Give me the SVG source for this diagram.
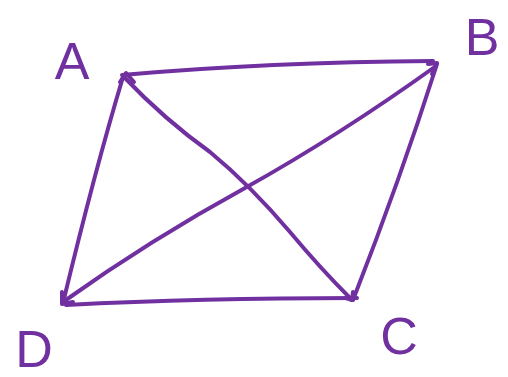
<svg xmlns="http://www.w3.org/2000/svg" width="508" height="377" viewBox="0 0 508 377">
<style>
.e{fill:none;stroke:#7030A0;stroke-width:4;stroke-linecap:round;stroke-linejoin:round}
.l{fill:#7030A0;font-family:"Liberation Sans",Arial,sans-serif;font-size:52px;text-anchor:middle}
</style>
<rect width="508" height="377" fill="#fff"/>
<g id="connectors">
<path class="e" d="M122,75 Q270,62 433,61"/>
<path class="e" d="M123,77 Q95,170 63,303"/>
<path class="e" d="M437,64 Q400,180 353,300"/>
<path class="e" d="M66,305 Q200,298 357,298"/>
<path class="e" d="M123,76 Q165,120 210,152 Q250,185 290,232 Q320,268 352,300"/>
<path class="e" d="M63,302 Q150,240 245,188 Q340,135 436,66"/>
<path class="e" d="M120,82 L126,73 L134,82"/>
<path class="e" d="M428,64 L437,63 L432,74"/>
<path class="e" d="M62,292 L62,304 L73,302"/>
<path class="e" d="M346,298 L352,300 L353,292"/>
</g>
<g id="A"><text class="l" x="72" y="79">A</text></g>
<g id="B"><text class="l" x="482" y="55">B</text></g>
<g id="C"><text class="l" x="399" y="354">C</text></g>
<g id="D"><text class="l" x="34" y="367">D</text></g>
</svg>
